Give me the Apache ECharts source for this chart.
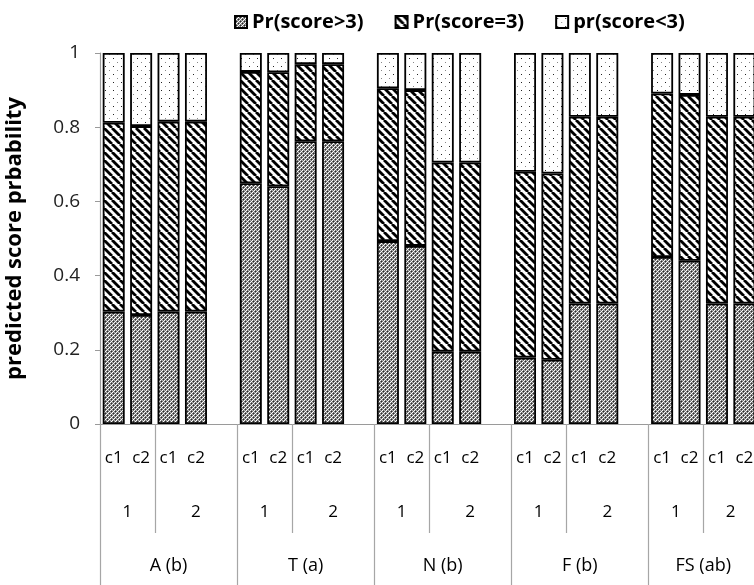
<!DOCTYPE html>
<html>
<head>
<meta charset="utf-8">
<script src="https://cdn.jsdelivr.net/npm/echarts@6/dist/echarts.min.js"></script>
<style>html,body{margin:0;padding:0;background:#fff}#c{width:754px;height:585px}</style>
</head>
<body>
<div id="c"></div>
<script>
// ---- data ----
const groups = ['A (b)', 'T (a)', 'N (b)', 'F (b)', 'FS (ab)'];
const periods = ['1', '2'];
const conditions = ['c1', 'c2'];
const seriesNames = ['Pr(score>3)', 'Pr(score=3)', 'pr(score<3)'];
// one value per bar: group x period x condition
const prGt3 = [0.303, 0.294, 0.303, 0.303, 0.649, 0.641, 0.762, 0.762, 0.493, 0.480, 0.195, 0.195, 0.179, 0.173, 0.325, 0.325, 0.450, 0.440, 0.325, 0.325];
const prEq3 = [0.509, 0.509, 0.512, 0.512, 0.300, 0.307, 0.208, 0.208, 0.412, 0.420, 0.510, 0.510, 0.501, 0.502, 0.503, 0.503, 0.441, 0.447, 0.503, 0.503];
const prLt3 = [0.188, 0.197, 0.185, 0.185, 0.051, 0.052, 0.030, 0.030, 0.095, 0.100, 0.295, 0.295, 0.320, 0.325, 0.172, 0.172, 0.109, 0.113, 0.172, 0.172];
const yTicks = [0, 0.2, 0.4, 0.6, 0.8, 1];

// ---- build slots (4 bars per group + one empty slot between groups) ----
const slotIds = [], slotLabels = [], d1 = [], d2 = [], d3 = [];
const periodPos = [], periodText = [], innerSep = [], groupSep = [], groupPos = [];
let bar = 0;
groups.forEach((g, gi) => {
  const start = slotIds.length;
  groupSep.push(start);
  periods.forEach((p) => {
    conditions.forEach((c) => {
      slotIds.push(g + '|' + p + '|' + c);
      slotLabels.push(c);
      d1.push(prGt3[bar]); d2.push(prEq3[bar]); d3.push(prLt3[bar]);
      bar++;
    });
  });
  if (gi < groups.length - 1) {
    slotIds.push(g + '|gap');
    slotLabels.push('');
    d1.push(null); d2.push(null); d3.push(null);
  }
  const end = slotIds.length;
  innerSep.push(start + 2);
  periodPos.push(start + 1); periodText.push(periods[0]);
  periodPos.push((start + 2 + end) / 2); periodText.push(periods[1]);
  groupPos.push((start + end) / 2);
});
const nSlots = slotIds.length;

// ---- fill patterns ----
function makePattern(size, draw) {
  const cv = document.createElement('canvas');
  cv.width = size; cv.height = size;
  const ctx = cv.getContext('2d');
  draw(ctx, size);
  return { image: cv, repeat: 'repeat' };
}
const patGt3 = makePattern(4, (ctx) => {
  const px = [
    ['#ffffff', '#777777', '#b0b0b0', '#777777'],
    ['#777777', '#2c2c2c', '#777777', '#ffffff'],
    ['#b0b0b0', '#777777', '#ffffff', '#777777'],
    ['#777777', '#ffffff', '#777777', '#2c2c2c']
  ];
  for (let y = 0; y < 4; y++) for (let x = 0; x < 4; x++) { ctx.fillStyle = px[y][x]; ctx.fillRect(x, y, 1, 1); }
});
const patEq3 = makePattern(8, (ctx, s) => {
  ctx.fillStyle = '#fff'; ctx.fillRect(0, 0, s, s);
  ctx.strokeStyle = '#000'; ctx.lineWidth = 2.8;
  [-s, 0, s].forEach((ox) => {
    ctx.beginPath(); ctx.moveTo(ox, 0); ctx.lineTo(ox + s, s); ctx.stroke();
  });
});
const patLt3 = makePattern(8, (ctx, s) => {
  ctx.fillStyle = '#fff'; ctx.fillRect(0, 0, s, s);
  ctx.fillStyle = '#222'; ctx.fillRect(1, 2, 1, 1);
  ctx.fillStyle = '#888'; ctx.fillRect(5, 6, 1, 1);
});

const FONT = 'Open Sans';
const chart = echarts.init(document.getElementById('c'), null, { renderer: 'canvas' });
const barStyle = (pat) => ({ color: pat, borderColor: '#000', borderWidth: 1.8 });
const sepStyle = { color: '#a6a6a6', width: 1.2 };

chart.setOption({
  animation: false,
  backgroundColor: '#fff',
  textStyle: { fontFamily: FONT },
  legend: {
    left: 229, top: 7,
    itemWidth: 12, itemHeight: 12, itemGap: 31,
    icon: 'rect',
    textStyle: { fontSize: 20, fontWeight: 'bold', color: '#000', fontFamily: FONT },
    data: seriesNames
  },
  grid: { left: 100, top: 53, height: 371, width: nSlots * 27.42, containLabel: false, outerBoundsMode: 'none' },
  xAxis: [
    {
      type: 'category', data: slotIds,
      axisLine: { lineStyle: { color: '#9a9a9a', width: 1.2 } },
      axisTick: { show: false },
      axisLabel: {
        interval: 0, margin: 26, fontSize: 17, color: '#000', fontFamily: FONT,
        formatter: (v, i) => slotLabels[i]
      }
    },
    {
      type: 'value', min: 0, max: nSlots, position: 'bottom',
      axisLine: { show: false }, splitLine: { show: false },
      axisTick: { show: true, customValues: innerSep, length: 109, lineStyle: sepStyle },
      axisLabel: {
        customValues: periodPos, margin: 80, fontSize: 17, color: '#000', fontFamily: FONT,
        formatter: (v) => periodText[periodPos.indexOf(v)]
      }
    },
    {
      type: 'value', min: 0, max: nSlots, position: 'bottom',
      axisLine: { show: false }, splitLine: { show: false },
      axisTick: { show: true, customValues: groupSep, length: 170, lineStyle: sepStyle },
      axisLabel: {
        customValues: groupPos, margin: 133, fontSize: 18, color: '#000', fontFamily: FONT,
        formatter: (v) => groups[groupPos.indexOf(v)]
      }
    }
  ],
  yAxis: {
    type: 'value', min: 0, max: 1, interval: 0.2,
    name: 'predicted score prbability', nameLocation: 'middle', nameGap: 74,
    nameTextStyle: { fontSize: 22, fontWeight: 'bold', color: '#000', fontFamily: FONT },
    axisLine: { show: true, lineStyle: { color: '#9a9a9a', width: 1.2 } },
    axisTick: { show: true, length: 5, lineStyle: { color: '#9a9a9a' }, customValues: yTicks },
    axisLabel: { margin: 20, fontSize: 19, color: '#222', fontFamily: FONT, customValues: yTicks },
    splitLine: { show: false }
  },
  series: [
    { name: seriesNames[0], type: 'bar', stack: 's', data: d1, barWidth: 22, itemStyle: barStyle(patGt3) },
    { name: seriesNames[1], type: 'bar', stack: 's', data: d2, barWidth: 22, itemStyle: barStyle(patEq3) },
    { name: seriesNames[2], type: 'bar', stack: 's', data: d3, barWidth: 22, itemStyle: barStyle(patLt3) }
  ]
});
</script>
</body>
</html>
